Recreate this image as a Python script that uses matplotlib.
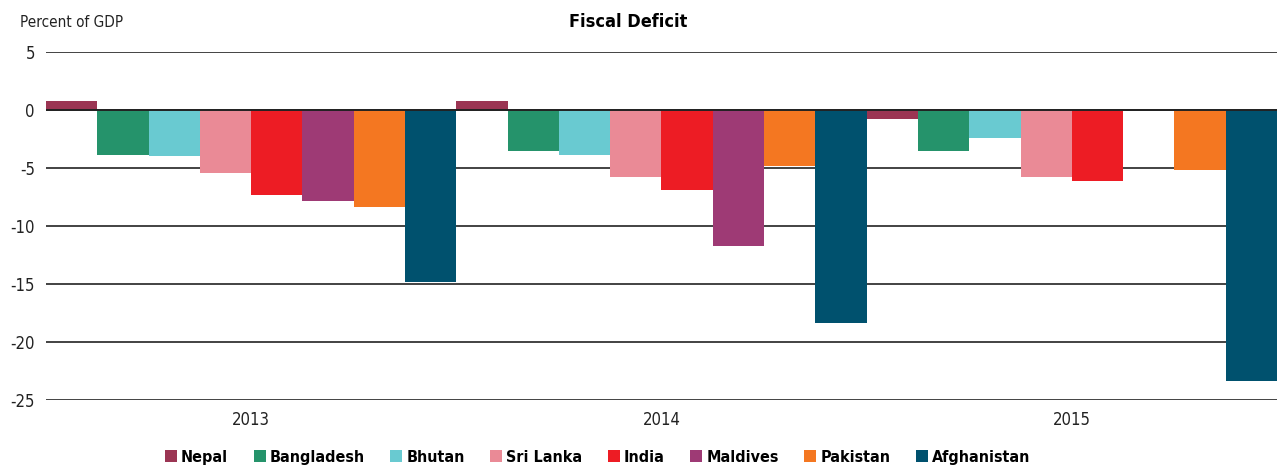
import numpy as np
import matplotlib
matplotlib.use('Agg')
import matplotlib.pyplot as plt
from matplotlib.patches import Patch

plt.rcParams['font.family'] = ['DejaVu Sans']
plt.rcParams['font.stretch'] = 'condensed'

years = ['2013', '2014', '2015']
countries = ['Nepal', 'Bangladesh', 'Bhutan', 'Sri Lanka', 'India', 'Maldives', 'Pakistan', 'Afghanistan']
colors = ['#9B3553', '#25936B', '#69CAD1', '#EA8A96', '#ED1C24', '#9E3A75', '#F47721', '#00516E']

nepal = [0.8, 0.8, -0.8]
bangladesh = [-3.9, -3.55, -3.55]
bhutan = [-4.0, -3.9, -2.4]
sri_lanka = [-5.4, -5.8, -5.8]
india = [-7.3, -6.9, -6.1]
maldives = [-7.8, -11.7, np.nan]
pakistan = [-8.35, -4.85, -5.15]
afghanistan = [-14.85, -18.4, -23.4]

series = [nepal, bangladesh, bhutan, sri_lanka, india, maldives, pakistan, afghanistan]

fig = plt.figure(figsize=(12.77, 4.69), dpi=100)
ax = fig.add_axes([0.036, 0.147, 0.964, 0.742])

n = len(countries)
w = 1.0 / n
x = np.arange(len(years))
for i, (vals, c) in enumerate(zip(series, colors)):
    ax.bar(x - 0.5 + w * (i + 0.5), vals, width=w, color=c, zorder=2, linewidth=0)

ax.set_xlim(-0.5, 2.5)
ax.set_ylim(-25, 5)
ax.set_yticks([5, 0, -5, -10, -15, -20, -25])
ax.set_yticklabels(['5', '0', '-5', '-10', '-15', '-20', '-25'])
ax.yaxis.grid(True, color='#222222', linewidth=1.2, zorder=0)
ax.axhline(0, color='#222222', linewidth=1.4, zorder=3)
ax.set_axisbelow(True)
ax.set_xticks(x)
ax.set_xticklabels(years)
for s in ax.spines.values():
    s.set_visible(False)
ax.tick_params(axis='both', length=0, labelsize=12, colors='#222222')
ax.tick_params(axis='x', pad=8)
ax.tick_params(axis='y', pad=8)

fig.text(0.016, 0.953, 'Percent of GDP', fontsize=11, va='center', ha='left', color='#222222')
fig.text(0.492, 0.953, 'Fiscal Deficit', fontsize=13, fontweight='bold', va='center', ha='center')

handles = [Patch(facecolor=c, label=l) for c, l in zip(colors, countries)]
leg = fig.legend(handles=handles, loc='center', bbox_to_anchor=(0.468, 0.025), ncol=8, frameon=False,
                 handlelength=0.75, handleheight=0.75, handletextpad=0.25, columnspacing=1.6,
                 prop={'size': 11.5, 'weight': 'bold', 'stretch': 'condensed'})

fig.savefig('out.png', dpi=100)
